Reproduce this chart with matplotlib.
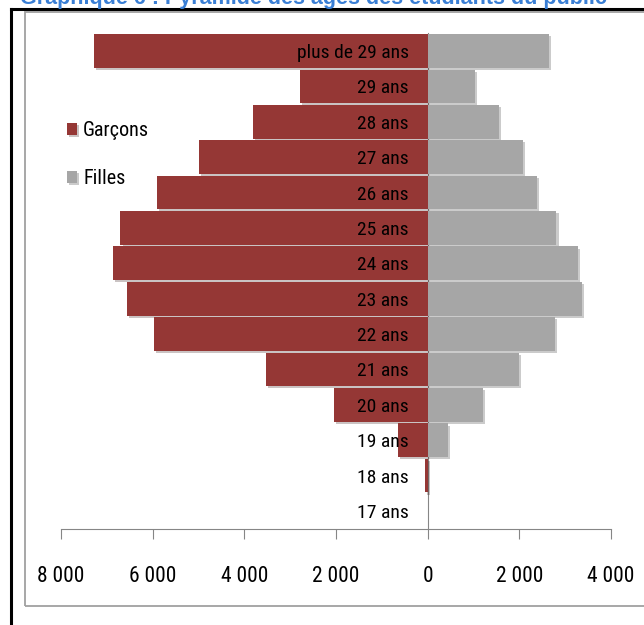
import os
import matplotlib
matplotlib.use("Agg")
import matplotlib.pyplot as plt
import matplotlib.patheffects as pe
from matplotlib.patches import Rectangle
from matplotlib.lines import Line2D
from matplotlib import font_manager

# Data (students per age, public sector)
ages = ['plus de 29 ans', '29 ans', '28 ans', '27 ans', '26 ans', '25 ans', '24 ans',
        '23 ans', '22 ans', '21 ans', '20 ans', '19 ans', '18 ans', '17 ans']
garcons = [7270, 2790, 3820, 4990, 5900, 6700, 6860, 6550, 5980, 3520, 2040, 640, 50, 0]
filles = [2650, 1030, 1550, 2085, 2380, 2810, 3280, 3360, 2780, 2000, 1210, 450, 0, 0]
xticks = [-8000, -6000, -4000, -2000, 0, 2000, 4000]
xtick_labels = ['8 000', '6 000', '4 000', '2 000', '0', '2 000', '4 000']


def find_narrow_font():
    # the original uses a narrow office font; take the closest regular condensed face
    prefs = ['LiberationSansNarrow-Regular', 'RobotoCondensed-Regular', 'NotoSans-Condensed.',
             'NotoSans-CondensedRegular', 'DejaVuSansCondensed.']
    files = [f.fname for f in font_manager.fontManager.ttflist]
    for p in prefs:
        for fn in files:
            if os.path.basename(fn).startswith(p):
                return fn
    return None


narrow_file = find_narrow_font()


def narrow_fp(size):
    if narrow_file:
        return font_manager.FontProperties(fname=narrow_file, size=size)
    return font_manager.FontProperties(family='DejaVu Sans', size=size)


red = '#953735'
grey = '#a6a6a6'
axis_grey = '#868686'

fig = plt.figure(figsize=(6.44, 6.25), dpi=100)
W, H = 644, 625

# Title (cut off at top in the original)
fig.text(20 / W, 1 - 4 / H, 'Graphique 6 : Pyramide des âges des étudiants du public',
         color='#3a7fd5', fontsize=15.5, fontweight='bold', family='Liberation Sans',
         ha='left', va='baseline')

# Outer black frame and inner grey frame
fig.add_artist(Line2D([11 / W, 11 / W], [0, 1 - 8.5 / H], color='black', lw=2.2,
                      transform=fig.transFigure))
fig.add_artist(Line2D([11 / W, 1], [1 - 8.5 / H, 1 - 8.5 / H], color='black', lw=2.2,
                      transform=fig.transFigure))
fig.add_artist(Rectangle((24.5 / W, 1 - 606 / H), (W + 20) / W, (606 - 12) / H,
                         transform=fig.transFigure, fill=False, edgecolor='#a0a0a0', lw=1.3))

ax = fig.add_axes([60.9 / W, 1 - 528.7 / H, (611 - 60.9) / W, (528.7 - 33.3) / H])

y = list(range(len(ages)))
shadow = [pe.withSimplePatchShadow(offset=(1.5, -1.5), alpha=0.25)]
bars_g = ax.barh(y, [-v for v in garcons], height=0.95, color=red, label='Garçons', zorder=2)
bars_f = ax.barh(y, filles, height=0.95, color=grey, label='Filles', zorder=2)
for b in list(bars_g) + list(bars_f):
    b.set_path_effects(shadow)

ax.set_xlim(-8000, 4000)
ax.set_ylim(len(ages) - 0.5, -0.5)

for s in ['top', 'right']:
    ax.spines[s].set_visible(False)
ax.spines['left'].set_position(('data', 0))
ax.spines['left'].set_color(axis_grey)
ax.spines['left'].set_zorder(1)
ax.spines['bottom'].set_color(axis_grey)
ax.yaxis.set_zorder(3)

ax.set_yticks(y)
ax.set_yticklabels(ages, fontproperties=narrow_fp(14))
ax.tick_params(axis='y', length=0, pad=13.5)

ax.set_xticks(xticks)
ax.set_xticklabels(xtick_labels, fontproperties=narrow_fp(15.5))
ax.tick_params(axis='x', length=7.5, color=axis_grey, direction='out', pad=19)

ax.legend(loc='upper left', bbox_to_anchor=(67 / W, 1 - 121 / H), bbox_transform=fig.transFigure,
          frameon=False, handlelength=0.5, handleheight=0.55, handletextpad=0.3,
          labelspacing=1.45, borderpad=0, borderaxespad=0, prop=narrow_fp(14.5))

fig.savefig('out.png', dpi=100)
